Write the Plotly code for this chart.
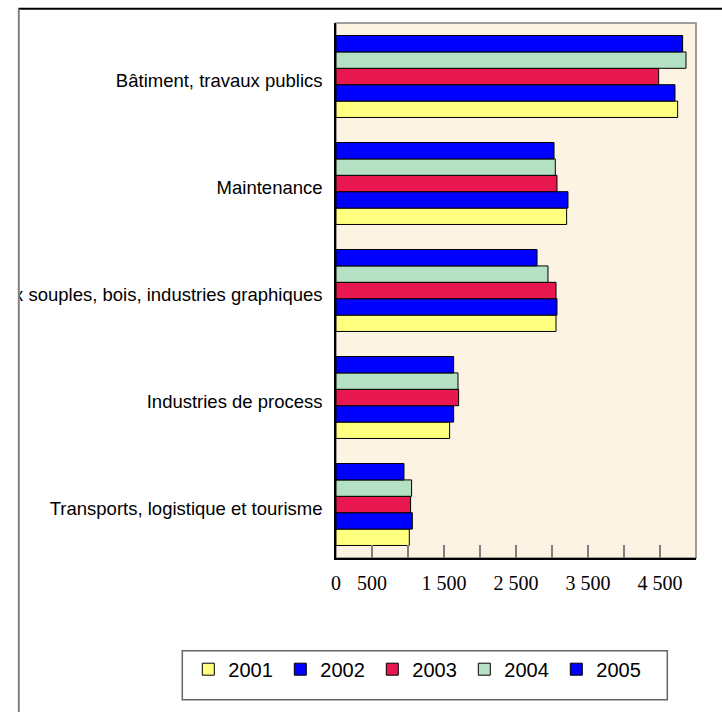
import plotly.graph_objects as go

# categories, top to bottom as in the chart
categories = ['Bâtiment, travaux publics',
              'Maintenance',
              'Matériaux souples, bois, industries graphiques',
              'Industries de process',
              'Transports, logistique et tourisme']

years = ['2001', '2002', '2003', '2004', '2005']

v2001 = [4745, 3203, 3056, 1578, 1018]
v2002 = [4708, 3222, 3069, 1634, 1060]
v2003 = [4481, 3069, 3056, 1703, 1036]
v2004 = [4861, 3046, 2944, 1694, 1050]
v2005 = [4814, 3028, 2792, 1634, 944]

tickvals = [0, 500, 1000, 1500, 2000, 2500, 3000, 3500, 4000, 4500, 5000]
ticktext = ['0', '500', '', '1 500', '', '2 500', '', '3 500', '', '4 500', '']

colors = ['#FFFF80', '#0000FF', '#E8174F', '#B4E1C4', '#0000FF']
series = [v2001, v2002, v2003, v2004, v2005]

fig = go.Figure()
for name, vals, col in zip(years, series, colors):
    fig.add_trace(go.Bar(y=categories, x=vals, name=name, orientation='h',
                         marker=dict(color=col, line=dict(color='black', width=1))))

W, H = 722, 712
L, R, T, B = 335.7, 695.7, 23.3, 558.3
pw, ph = R - L, B - T


def px(x):
    return (x - L) / pw


def py(y):
    return (B - y) / ph


fig.update_layout(
    width=W, height=H,
    margin=dict(l=L, r=W - R, t=T, b=H - B, autoexpand=False),
    paper_bgcolor='white',
    plot_bgcolor='#FDF3E3',
    barmode='group',
    bargap=0.234,
    bargroupgap=0,
    font=dict(family='Liberation Sans, Arial', color='black'),
    showlegend=True,
    legend=dict(orientation='h', traceorder='normal',
                x=px(188), y=py(650), xanchor='left', yanchor='top',
                borderwidth=0,
                font=dict(size=20, family='Liberation Sans, Arial'),
                entrywidth=47, itemwidth=30,
                bgcolor='rgba(0,0,0,0)'),
    xaxis=dict(range=[0, 5000], tickvals=tickvals, ticktext=ticktext,
               ticks='inside', ticklen=13, tickcolor='#7F7F7F', tickwidth=1.5,
               showgrid=False, zeroline=False, showline=True,
               linecolor='black', linewidth=1.5,
               tickfont=dict(family='Liberation Serif, Times New Roman', size=20),
               ticklabelstandoff=6, automargin=False, fixedrange=True),
    yaxis=dict(categoryorder='array', categoryarray=categories[::-1],
               showgrid=False, zeroline=False, showline=True,
               linecolor='black', linewidth=1.5, ticks='',
               tickfont=dict(size=18.5, family='Liberation Sans, Arial'),
               ticklabelstandoff=8, ticklabelshift=4,
               automargin=False, fixedrange=True),
    shapes=[
        # plot area border
        dict(type='rect', xref='paper', yref='paper', x0=0, x1=1, y0=0, y1=1,
             line=dict(color='#808080', width=1.5), layer='below'),
        # legend box
        dict(type='rect', xref='paper', yref='paper',
             x0=px(182), x1=px(667), y0=py(700), y1=py(651),
             line=dict(color='#666666', width=1.5), fillcolor='white', layer='below'),
        # white cover clipping the long label at the frame
        dict(type='rect', xref='paper', yref='paper',
             x0=px(-5), x1=px(18), y0=py(320), y1=py(260),
             fillcolor='white', line=dict(width=0), layer='above'),
        # outer frame
        dict(type='line', xref='paper', yref='paper',
             x0=px(18), x1=px(722), y0=py(9), y1=py(9),
             line=dict(color='black', width=2), layer='above'),
        dict(type='line', xref='paper', yref='paper',
             x0=px(18.5), x1=px(18.5), y0=py(9), y1=py(715),
             line=dict(color='#808080', width=2), layer='above'),
    ],
)

fig.write_html('out.html', config={'displayModeBar': False},
               post_script="document.body.style.margin='0';document.body.style.overflow='hidden';")
